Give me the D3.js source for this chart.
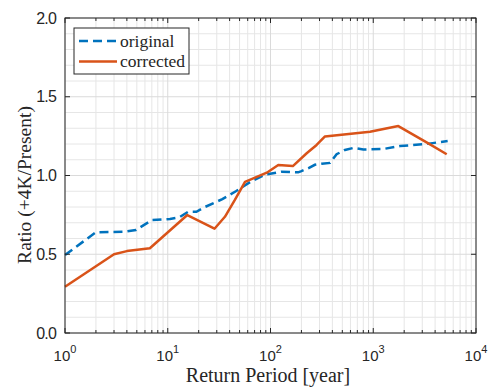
<!DOCTYPE html>
<html>
<head>
<meta charset="utf-8">
<script src="https://cdn.jsdelivr.net/npm/d3@7"></script>
<style>
  body { margin: 0; background: #fff; }
  .tick-label { font-family: "Liberation Sans", Arial, sans-serif; fill: #262626; }
  .title { font-family: "Liberation Serif", "Times New Roman", serif; fill: #262626; }
</style>
</head>
<body>
<svg id="chart" width="493" height="387"></svg>
<script>
// return period [year] and ratio values
const origT = [1, 2, 3.7, 4.9, 7, 10.5, 13, 15.8, 19, 23, 34, 46, 64, 88, 128, 186, 200, 240, 270, 315, 380, 440, 530, 640, 800, 1250, 1822, 3280, 5300];
const origV = [0.495, 0.64, 0.643, 0.654, 0.717, 0.724, 0.735, 0.77, 0.77, 0.8, 0.85, 0.9, 0.96, 1.005, 1.024, 1.02, 1.028, 1.05, 1.068, 1.075, 1.08, 1.135, 1.162, 1.175, 1.165, 1.168, 1.187, 1.2, 1.219];

const corrT = [1, 3, 4, 6.7, 15.5, 28.5, 36, 45, 56.5, 92, 119, 165, 225, 281, 339, 930, 1754, 3436, 5187];
const corrV = [0.294, 0.5, 0.52, 0.538, 0.749, 0.662, 0.738, 0.845, 0.96, 1.018, 1.067, 1.06, 1.141, 1.194, 1.248, 1.278, 1.314, 1.204, 1.135];

const yTicks = [0, 0.5, 1.0, 1.5, 2.0];
const xDecades = [0, 1, 2, 3, 4];
const seriesNames = ["original", "corrected"];

const svg = d3.select("#chart");
const margin = {top: 18, right: 17, bottom: 54, left: 65};
const width = 493, height = 387;
const x0 = margin.left, x1 = width - margin.right;
const y0 = height - margin.bottom, y1 = margin.top;

const x = d3.scaleLog().domain([1, 10000]).range([x0, x1]);
const y = d3.scaleLinear().domain([0, 2]).range([y0, y1]);

// minor log positions
const minorX = [];
xDecades.slice(0, -1).forEach(e => {
    for (let k = 2; k <= 9; k++) minorX.push(k * Math.pow(10, e));
});
const majorX = xDecades.map(e => Math.pow(10, e));
const minorY = d3.range(0.1, 2, 0.1).filter(v => Math.abs(v * 2 - Math.round(v * 2)) > 1e-6);

const grid = svg.append("g");
grid.selectAll(".gmx").data(minorX).enter().append("line")
    .attr("x1", d => x(d)).attr("x2", d => x(d))
    .attr("y1", y0).attr("y2", y1)
    .attr("stroke", "#e6e6e6").attr("stroke-width", 1);
grid.selectAll(".gmy").data(minorY).enter().append("line")
    .attr("x1", x0).attr("x2", x1)
    .attr("y1", d => y(d)).attr("y2", d => y(d))
    .attr("stroke", "#e6e6e6").attr("stroke-width", 1);
grid.selectAll(".gMx").data(majorX).enter().append("line")
    .attr("x1", d => x(d)).attr("x2", d => x(d))
    .attr("y1", y0).attr("y2", y1)
    .attr("stroke", "#dadada").attr("stroke-width", 1);
grid.selectAll(".gMy").data(yTicks).enter().append("line")
    .attr("x1", x0).attr("x2", x1)
    .attr("y1", d => y(d)).attr("y2", d => y(d))
    .attr("stroke", "#dadada").attr("stroke-width", 1);

// lines
const line = d3.line().x(d => x(d[0])).y(d => y(d[1]));
const origData = origT.map((t, i) => [t, origV[i]]);
const corrData = corrT.map((t, i) => [t, corrV[i]]);

svg.append("path").datum(origData)
    .attr("d", line).attr("fill", "none")
    .attr("stroke", "#0072BD").attr("stroke-width", 2.5)
    .attr("stroke-dasharray", "9,5");
svg.append("path").datum(corrData)
    .attr("d", line).attr("fill", "none")
    .attr("stroke", "#D95319").attr("stroke-width", 2.5)
    .attr("stroke-linejoin", "round");

// axes box and inward ticks
const ax = svg.append("g").attr("stroke", "#262626").attr("stroke-width", 1);
ax.append("rect").attr("x", x0).attr("y", y1)
    .attr("width", x1 - x0).attr("height", y0 - y1).attr("fill", "none");
[[y0, -1], [y1, 1]].forEach(([yy, dir]) => {
    ax.selectAll(null).data(majorX).enter().append("line")
        .attr("x1", d => x(d)).attr("x2", d => x(d))
        .attr("y1", yy).attr("y2", yy + dir * 5);
    ax.selectAll(null).data(minorX).enter().append("line")
        .attr("x1", d => x(d)).attr("x2", d => x(d))
        .attr("y1", yy).attr("y2", yy + dir * 3);
});
[[x0, 1], [x1, -1]].forEach(([xx, dir]) => {
    ax.selectAll(null).data(yTicks).enter().append("line")
        .attr("x1", xx).attr("x2", xx + dir * 5)
        .attr("y1", d => y(d)).attr("y2", d => y(d));
});

// tick labels
svg.selectAll(".ylab").data(yTicks).enter().append("text")
    .attr("class", "tick-label")
    .attr("x", x0 - 9).attr("y", d => y(d) + 5.5)
    .attr("text-anchor", "end").attr("font-size", 16)
    .attr("letter-spacing", -0.8)
    .text(d3.format(".1f"));

const xl = svg.selectAll(".xlab").data(xDecades).enter().append("text")
    .attr("class", "tick-label")
    .attr("x", d => x(Math.pow(10, d)))
    .attr("y", y0 + 28)
    .attr("text-anchor", "middle").attr("font-size", 15);
xl.append("tspan").text("10");
xl.append("tspan").attr("dy", -8).attr("font-size", 11).text(d => d);

// axis titles
svg.append("text").attr("class", "title")
    .attr("x", 268).attr("y", 382)
    .attr("text-anchor", "middle").attr("font-size", 20)
    .text("Return Period [year]");
svg.append("text").attr("class", "title")
    .attr("transform", "translate(31,185) rotate(-90)")
    .attr("text-anchor", "middle").attr("font-size", 19.5)
    .text("Ratio (+4K/Present)");

// legend
const lg = svg.append("g");
lg.append("rect").attr("x", 74).attr("y", 28).attr("width", 115).attr("height", 46)
    .attr("fill", "#fff").attr("stroke", "#262626").attr("stroke-width", 1);
const legendStyle = [
    {color: "#0072BD", dash: "9,5"},
    {color: "#D95319", dash: null}
];
seriesNames.forEach((name, i) => {
    const ly = 41 + i * 20.5;
    lg.append("line").attr("x1", 79).attr("x2", 117).attr("y1", ly).attr("y2", ly)
        .attr("stroke", legendStyle[i].color).attr("stroke-width", 2.5)
        .attr("stroke-dasharray", legendStyle[i].dash);
    lg.append("text").attr("class", "title")
        .attr("x", 120).attr("y", ly + 5.5).attr("font-size", 17.5)
        .text(name);
});
</script>
</body>
</html>
